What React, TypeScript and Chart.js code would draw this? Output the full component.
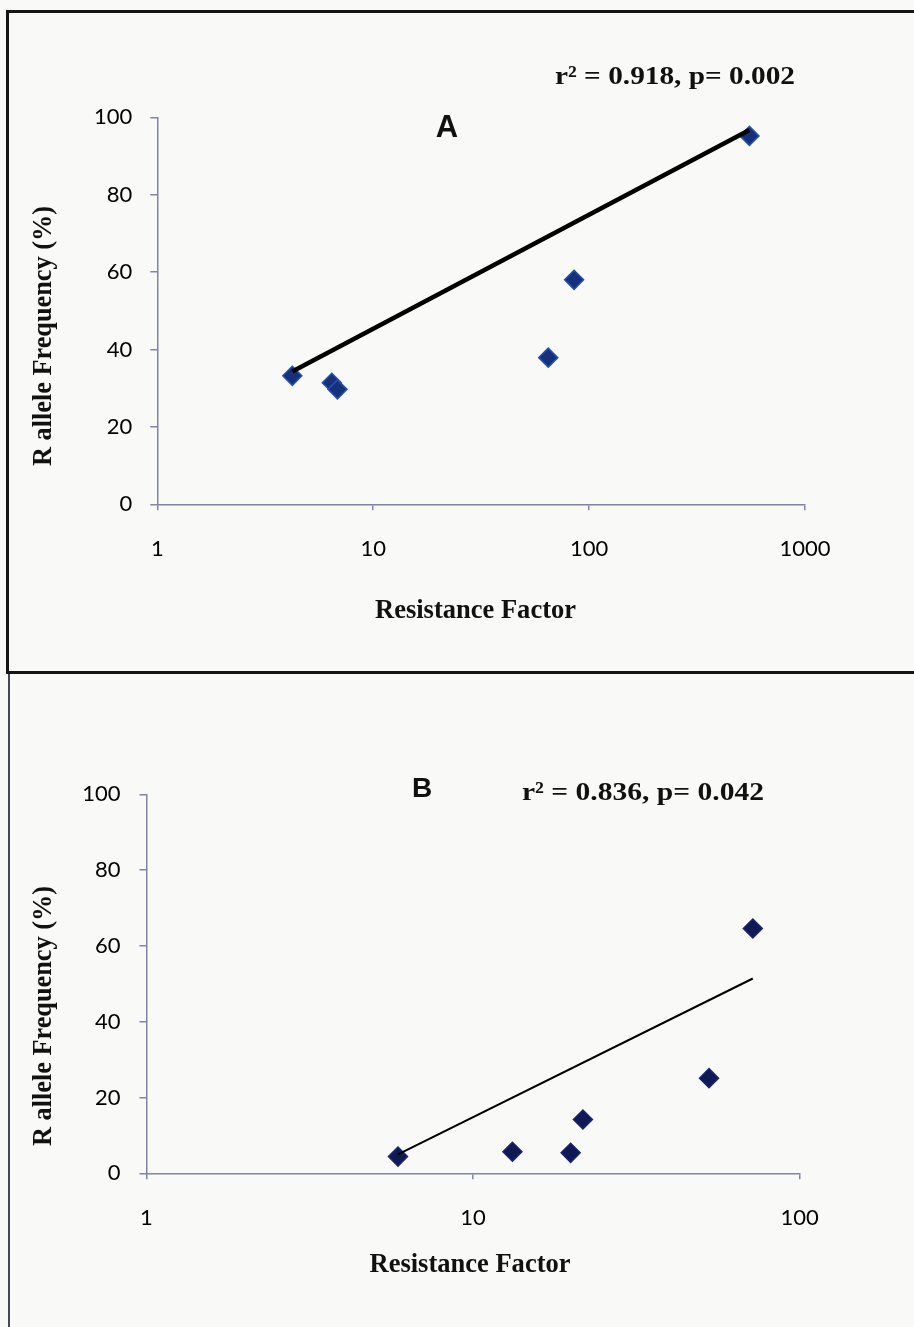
import React, { useEffect, useRef } from 'react';
import { Chart, registerables } from 'chart.js';

Chart.register(...registerables);

// ---------- data ----------
const yTicks = [0, 20, 40, 60, 80, 100];
const xTitle = 'Resistance Factor';
const yTitle = 'R allele Frequency (%)';

// Panel A
const xTicksA = [1, 10, 100, 1000];
const rfA = [4.22, 6.43, 6.83, 64.7, 85.2, 553];
const freqA = [33.2, 31.4, 29.7, 37.9, 58.0, 95.2];
const trendXA = [4.22, 553];
const trendYA = [34.3, 96.7];
const statA = 'r\u00B2 = 0.918, p= 0.002';
const letterA = 'A';

// Panel B
const xTicksB = [1, 10, 100];
const rfB = [5.89, 13.2, 19.9, 21.7, 52.8, 71.9];
const freqB = [4.4, 5.7, 5.4, 14.2, 25.1, 64.6];
const trendXB = [5.89, 71.9];
const trendYB = [5.0, 51.4];
const statB = 'r\u00B2 = 0.836, p= 0.042';
const letterB = 'B';

const AXIS = '#7f84a8';
const INK = '#111111';

type TextSpec = {
  text: string;
  x: number;
  y: number;
  font: string;
  width?: number;
  rot?: number;
  baseline?: CanvasTextBaseline;
};

type PanelProps = {
  top: number;
  W: number;
  H: number;
  area: { left: number; top: number; right: number; bottom: number };
  xMax: number;
  xTicks: number[];
  rf: number[];
  freq: number[];
  trendX: number[];
  trendY: number[];
  lineWidth: number;
  pointFill: string;
  pointBorder: string;
  yTickPad: number;
  texts: TextSpec[];
};

function drawText(ctx: CanvasRenderingContext2D, t: TextSpec) {
  ctx.save();
  ctx.font = t.font;
  ctx.fillStyle = INK;
  ctx.textAlign = 'center';
  ctx.textBaseline = t.baseline || 'alphabetic';
  ctx.translate(t.x, t.y);
  if (t.rot) ctx.rotate(t.rot);
  if (t.width) {
    const w = ctx.measureText(t.text).width;
    if (w > 0) ctx.scale(t.width / w, 1);
  }
  ctx.fillText(t.text, 0, 0);
  ctx.restore();
}

function Panel(p: PanelProps) {
  const ref = useRef<HTMLCanvasElement | null>(null);
  useEffect(() => {
    const canvas = ref.current;
    if (!canvas) return;
    const annot = {
      id: 'annot',
      afterDraw(chart: any) {
        const ctx = chart.ctx as CanvasRenderingContext2D;
        p.texts.forEach((t) => drawText(ctx, t));
      },
    };
    const tickFont = { family: 'Lato', size: 22 };
    const chart = new Chart(canvas, {
      type: 'scatter',
      data: {
        datasets: [
          {
            type: 'line',
            data: p.trendX.map((x, i) => ({ x, y: p.trendY[i] })),
            borderColor: '#000000',
            borderWidth: p.lineWidth,
            pointRadius: 0,
            fill: false,
            tension: 0,
            order: 0,
          } as any,
          {
            type: 'scatter',
            data: p.rf.map((x, i) => ({ x, y: p.freq[i] })),
            pointStyle: 'rectRot',
            pointRadius: 9.5,
            pointHoverRadius: 9.5,
            backgroundColor: p.pointFill,
            borderColor: p.pointBorder,
            borderWidth: 1.5,
            order: 1,
          } as any,
        ],
      },
      options: {
        animation: false,
        responsive: false,
        maintainAspectRatio: false,
        events: [],
        plugins: { legend: { display: false }, tooltip: { enabled: false } },
        layout: {
          padding: { top: p.area.top, right: p.W - p.area.right, left: 0, bottom: 0 },
        },
        scales: {
          x: {
            type: 'logarithmic',
            min: 1,
            max: p.xMax,
            afterBuildTicks: (s: any) => {
              s.ticks = p.xTicks.map((v) => ({ value: v }));
            },
            afterFit: (s: any) => {
              s.height = p.H - p.area.bottom;
            },
            ticks: {
              font: tickFont,
              color: '#000',
              padding: 25,
              autoSkip: false,
              maxRotation: 0,
              callback: (v: any) => String(v),
            },
            grid: { drawOnChartArea: false, drawTicks: true, tickLength: 6, color: AXIS, lineWidth: 1.5 },
            border: { display: true, color: AXIS, width: 1.5 },
          },
          y: {
            type: 'linear',
            min: 0,
            max: 100,
            afterBuildTicks: (s: any) => {
              s.ticks = yTicks.map((v) => ({ value: v }));
            },
            afterFit: (s: any) => {
              s.width = p.area.left;
            },
            ticks: {
              font: tickFont,
              color: '#000',
              padding: p.yTickPad,
              callback: (v: any) => String(v),
            },
            grid: { drawOnChartArea: false, drawTicks: true, tickLength: 7, color: AXIS, lineWidth: 1.5 },
            border: { display: true, color: AXIS, width: 1.5 },
          },
        },
      } as any,
      plugins: [annot],
    });
    return () => chart.destroy();
  }, []);
  return (
    <canvas
      ref={ref}
      width={p.W}
      height={p.H}
      style={{ position: 'absolute', left: 0, top: p.top, width: p.W, height: p.H, display: 'block' }}
    />
  );
}

export default function App() {
  const W = 914;
  const titleFont = 'bold 28px "Liberation Serif", "Times New Roman", serif';
  const statFont = 'bold 26px "Liberation Serif", "Times New Roman", serif';
  const HA = 672;
  const HB = 653;
  const topB = 674;
  return (
    <div
      style={{
        position: 'absolute',
        left: 0,
        top: 0,
        width: 914,
        height: 1327,
        overflow: 'hidden',
        background: '#f9f9f8',
      }}
    >
      <div
        style={{
          position: 'absolute',
          left: 6,
          top: 10,
          width: 1000,
          height: 664,
          boxSizing: 'border-box',
          border: '3px solid #151515',
        }}
      />
      <div style={{ position: 'absolute', left: 8, top: 674, width: 2, height: 653, background: '#44465e' }} />
      <Panel
        top={0}
        W={W}
        H={HA}
        area={{ left: 157.3, top: 117.3, right: 805, bottom: 504.3 }}
        xMax={1000}
        xTicks={xTicksA}
        rf={rfA}
        freq={freqA}
        trendX={trendXA}
        trendY={trendYA}
        lineWidth={4.5}
        pointFill="#16307a"
        pointBorder="#2550b0"
        yTickPad={18}
        texts={[
          { text: statA, x: 675, y: 84, font: statFont, width: 240 },
          { text: letterA, x: 447, y: 137, font: 'bold 31px "Liberation Sans", Arial, sans-serif' },
          { text: xTitle, x: 475.5, y: 618, font: titleFont, width: 201 },
          { text: yTitle, x: 44, y: 336, font: titleFont, width: 260, rot: -Math.PI / 2, baseline: 'middle' },
        ]}
      />
      <Panel
        top={topB}
        W={W}
        H={HB}
        area={{ left: 146.5, top: 794.3 - topB, right: 799.6, bottom: 1173.3 - topB }}
        xMax={100}
        xTicks={xTicksB}
        rf={rfB}
        freq={freqB}
        trendX={trendXB}
        trendY={trendYB}
        lineWidth={2}
        pointFill="#0f1a55"
        pointBorder="#1a2472"
        yTickPad={19}
        texts={[
          { text: statB, x: 643, y: 800 - topB, font: statFont, width: 242 },
          { text: letterB, x: 422, y: 797 - topB, font: 'bold 28px "Liberation Sans", Arial, sans-serif' },
          { text: xTitle, x: 470, y: 1272 - topB, font: titleFont, width: 201 },
          { text: yTitle, x: 44, y: 1016 - topB, font: titleFont, width: 260, rot: -Math.PI / 2, baseline: 'middle' },
        ]}
      />
    </div>
  );
}
